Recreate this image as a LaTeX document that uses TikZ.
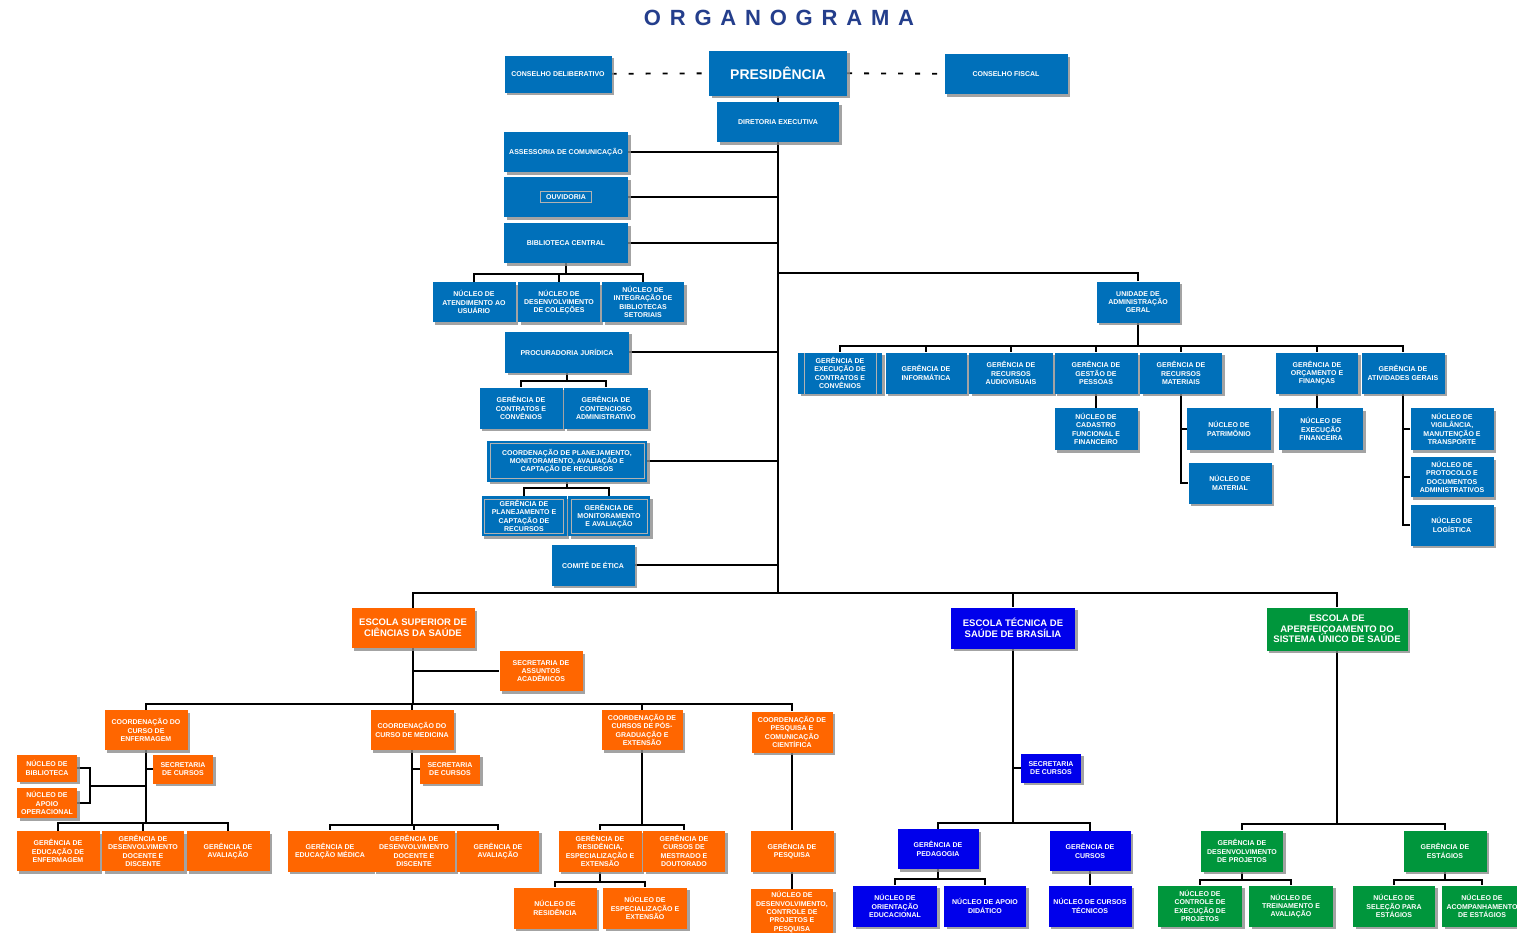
\documentclass[tikz,border=0pt]{standalone}
\usepackage{fontspec}
\setmainfont{Liberation Sans}
\newfontfamily\titlefont[LetterSpace=40]{Liberation Sans}
\usetikzlibrary{shadows,backgrounds}
\definecolor{ubl}{RGB}{0,112,186}
\definecolor{uor}{RGB}{255,102,0}
\definecolor{uet}{RGB}{0,0,235}
\definecolor{ugr}{RGB}{0,150,60}
\definecolor{utit}{RGB}{36,62,140}
\setlength{\fboxrule}{1pt}
\setlength{\fboxsep}{3pt}

\begin{document}
\begin{tikzpicture}[x=1pt, y=-1pt,
    unit/.style={fill=ubl, text=white, font=\fontsize{7}{8.3}\selectfont\bfseries,
        align=center, inner sep=0pt, minimum width=83pt, minimum height=40pt,
        drop shadow={shadow xshift=2.5pt, shadow yshift=-2.5pt, fill=black!45, opacity=.8}},
    esunit/.style={unit, fill=uor},
    etunit/.style={unit, fill=uet},
    eaunit/.style={unit, fill=ugr},
    school/.style={font=\fontsize{9.5}{10.7}\selectfont\bfseries, minimum width=124pt, minimum height=41pt},
    small/.style={minimum width=60pt, minimum height=29pt},
    inset/.style={path picture={\draw[gray!60, line width=1pt]
        ([shift={(3pt,-3pt)}]path picture bounding box.north west) rectangle
        ([shift={(-3pt,3pt)}]path picture bounding box.south east);}},
    vlines/.style={path picture={\draw[gray!60, line width=1pt]
        ([xshift=6pt]path picture bounding box.north west) -- ([xshift=6pt]path picture bounding box.south west)
        ([xshift=-6pt]path picture bounding box.north east) -- ([xshift=-6pt]path picture bounding box.south east);}},
    link/.style={line width=1.8pt, black}]

    \useasboundingbox (0,0) rectangle (1517,932);
    \node[text=utit, font=\titlefont\bfseries\fontsize{22}{22}\selectfont] (title) at (779,18) {ORGANOGRAMA};

    \node[unit, minimum width=107pt, minimum height=37pt] (cd) at (558,74) {CONSELHO DELIBERATIVO};
    \node[unit, minimum width=138pt, minimum height=45pt, font=\fontsize{14}{14}\selectfont\bfseries] (pres) at (778,73) {PRESIDÊNCIA};
    \node[unit, minimum width=123pt] (cf) at (1006,74) {CONSELHO FISCAL};
    \node[unit, minimum width=122pt] (dir) at (778,122) {DIRETORIA EXECUTIVA};
    \coordinate (tb) at (778,593);

    \node[unit, minimum width=124pt] (ac) at (566,152) {ASSESSORIA DE COMUNICAÇÃO};
    \node[unit, minimum width=124pt] (ouv) at (566,197) {\fcolorbox{gray!60}{ubl}{\hspace{2pt}OUVIDORIA\hspace{2pt}}};
    \node[unit, minimum width=124pt] (bc) at (566,243) {BIBLIOTECA CENTRAL};
    \node[unit] (nau) at (474,302) {NÚCLEO DE\\ATENDIMENTO AO\\USUÁRIO};
    \node[unit, minimum width=82pt] (ndc) at (559,302) {NÚCLEO DE\\DESENVOLVIMENTO\\DE COLEÇÕES};
    \node[unit, minimum width=82pt] (nibs) at (643,302) {NÚCLEO DE\\INTEGRAÇÃO DE\\BIBLIOTECAS\\SETORIAIS};
    \node[unit, minimum width=124pt, minimum height=41pt] (pj) at (567,352) {PROCURADORIA JURÍDICA};
    \node[unit, minimum height=41pt] (gcc) at (521,408) {GERÊNCIA DE\\CONTRATOS E\\CONVÊNIOS};
    \node[unit, minimum width=84pt, minimum height=41pt] (gca) at (606,408) {GERÊNCIA DE\\CONTENCIOSO\\ADMINISTRATIVO};
    \node[unit, inset, minimum width=160pt, minimum height=41pt] (cpm) at (567,461) {COORDENAÇÃO DE PLANEJAMENTO,\\MONITORAMENTO, AVALIAÇÃO E\\CAPTAÇÃO DE RECURSOS};
    \node[unit, inset, minimum width=85pt] (gpc) at (524,516) {GERÊNCIA DE\\PLANEJAMENTO E\\CAPTAÇÃO DE\\RECURSOS};
    \node[unit, inset, minimum width=82pt] (gma) at (609,516) {GERÊNCIA DE\\MONITORAMENTO\\E AVALIAÇÃO};
    \node[unit, minimum height=41pt] (ce) at (593,565) {COMITÊ DE ÉTICA};

    \node[unit, minimum height=41pt] (uag) at (1138,302) {UNIDADE DE\\ADMINISTRAÇÃO\\GERAL};
    \node[unit, vlines, minimum width=84pt, minimum height=41pt] (gec) at (840,373) {GERÊNCIA DE\\EXECUÇÃO DE\\CONTRATOS E\\CONVÊNIOS};
    \node[unit, minimum width=81pt, minimum height=41pt] (gi) at (926,373) {GERÊNCIA DE\\INFORMÁTICA};
    \node[unit, minimum width=84pt, minimum height=41pt] (gra) at (1011,373) {GERÊNCIA DE\\RECURSOS\\AUDIOVISUAIS};
    \node[unit, minimum height=41pt] (ggp) at (1096,373) {GERÊNCIA DE\\GESTÃO DE\\PESSOAS};
    \node[unit, minimum width=82pt, minimum height=41pt] (grm) at (1181,373) {GERÊNCIA DE\\RECURSOS\\MATERIAIS};
    \node[unit, minimum width=82pt, minimum height=41pt] (gof) at (1317,373) {GERÊNCIA DE\\ORÇAMENTO E\\FINANÇAS};
    \node[unit, minimum height=41pt] (gag) at (1403,373) {GERÊNCIA DE\\ATIVIDADES GERAIS};
    \node[unit, minimum height=42pt] (ncf) at (1096,429) {NÚCLEO DE\\CADASTRO\\FUNCIONAL E\\FINANCEIRO};
    \node[unit, minimum width=84pt, minimum height=42pt] (npt) at (1229,429) {NÚCLEO DE\\PATRIMÔNIO};
    \node[unit, minimum height=41pt] (nmt) at (1230,483) {NÚCLEO DE\\MATERIAL};
    \node[unit, minimum width=84pt, minimum height=42pt] (nef) at (1321,429) {NÚCLEO DE\\EXECUÇÃO\\FINANCEIRA};
    \node[unit, minimum height=42pt] (nvm) at (1452,429) {NÚCLEO DE\\VIGILÂNCIA,\\MANUTENÇÃO E\\TRANSPORTE};
    \node[unit] (npd) at (1452,477) {NÚCLEO DE\\PROTOCOLO E\\DOCUMENTOS\\ADMINISTRATIVOS};
    \node[unit, minimum height=41pt] (nlg) at (1452,525) {NÚCLEO DE\\LOGÍSTICA};

    \node[esunit, school, minimum width=123pt, minimum height=40pt] (escs) at (413,628) {ESCOLA SUPERIOR DE\\CIÊNCIAS DA SAÚDE};
    \node[esunit] (saa) at (541,671) {SECRETARIA DE\\ASSUNTOS\\ACADÊMICOS};
    \node[esunit] (cenf) at (146,730) {COORDENAÇÃO DO\\CURSO DE\\ENFERMAGEM};
    \node[esunit, small] (scenf) at (183,769) {SECRETARIA\\DE CURSOS};
    \node[esunit, small, minimum height=27pt] (nbib) at (47,768) {NÚCLEO DE\\BIBLIOTECA};
    \node[esunit, small, minimum height=30pt] (napo) at (47,803) {NÚCLEO DE\\APOIO\\OPERACIONAL};
    \coordinate (bk) at (90,786);
    \node[esunit] (geenf) at (58,851) {GERÊNCIA DE\\EDUCAÇÃO DE\\ENFERMAGEM};
    \node[esunit, minimum width=82pt] (gdenf) at (143,851) {GERÊNCIA DE\\DESENVOLVIMENTO\\DOCENTE E\\DISCENTE};
    \node[esunit] (gaenf) at (228,851) {GERÊNCIA DE\\AVALIAÇÃO};
    \node[esunit] (cmed) at (412,730) {COORDENAÇÃO DO\\CURSO DE MEDICINA};
    \node[esunit, small] (scmed) at (450,769) {SECRETARIA\\DE CURSOS};
    \node[esunit, minimum width=85pt, minimum height=41pt] (gemed) at (330,851) {GERÊNCIA DE\\EDUCAÇÃO MÉDICA};
    \node[esunit, minimum width=82pt, minimum height=41pt] (gdmed) at (414,851) {GERÊNCIA DE\\DESENVOLVIMENTO\\DOCENTE E\\DISCENTE};
    \node[esunit, minimum width=82pt, minimum height=41pt] (gamed) at (498,851) {GERÊNCIA DE\\AVALIAÇÃO};
    \node[esunit, minimum width=81pt] (cpos) at (642,730) {COORDENAÇÃO DE\\CURSOS DE PÓS-\\GRADUAÇÃO E\\EXTENSÃO};
    \node[esunit, minimum height=41pt] (gree) at (600,851) {GERÊNCIA DE\\RESIDÊNCIA,\\ESPECIALIZAÇÃO E\\EXTENSÃO};
    \node[esunit, minimum width=82pt, minimum height=41pt] (gcmd) at (684,851) {GERÊNCIA DE\\CURSOS DE\\MESTRADO E\\DOUTORADO};
    \node[esunit, minimum height=41pt] (nres) at (555,908) {NÚCLEO DE\\RESIDÊNCIA};
    \node[esunit, minimum width=84pt, minimum height=41pt] (nesp) at (645,908) {NÚCLEO DE\\ESPECIALIZAÇÃO E\\EXTENSÃO};
    \node[esunit, minimum width=81pt, minimum height=41pt] (cpq) at (792,732) {COORDENAÇÃO DE\\PESQUISA E\\COMUNICAÇÃO\\CIENTÍFICA};
    \node[esunit, minimum height=41pt] (gpq) at (792,851) {GERÊNCIA DE\\PESQUISA};
    \node[esunit, minimum width=82pt, minimum height=46pt] (ndpq) at (792,912) {NÚCLEO DE\\DESENVOLVIMENTO,\\CONTROLE DE\\PROJETOS E\\PESQUISA};

    \node[etunit, school] (etsb) at (1013,628) {ESCOLA TÉCNICA DE\\SAÚDE DE BRASÍLIA};
    \node[etunit, small] (setsb) at (1051,768) {SECRETARIA\\DE CURSOS};
    \node[etunit, minimum width=81pt] (gped) at (938,849) {GERÊNCIA DE\\PEDAGOGIA};
    \node[etunit, minimum width=81pt] (gcur) at (1090,851) {GERÊNCIA DE\\CURSOS};
    \node[etunit, minimum width=84pt, minimum height=41pt] (noe) at (895,906) {NÚCLEO DE\\ORIENTAÇÃO\\EDUCACIONAL};
    \node[etunit, minimum width=82pt, minimum height=41pt] (nad) at (985,906) {NÚCLEO DE APOIO\\DIDÁTICO};
    \node[etunit, minimum height=41pt] (nct) at (1090,906) {NÚCLEO DE CURSOS\\TÉCNICOS};

    \node[eaunit, school, minimum width=141pt, minimum height=43pt] (eap) at (1337,629) {ESCOLA DE\\APERFEIÇOAMENTO DO\\SISTEMA ÚNICO DE SAÚDE};
    \node[eaunit, minimum width=82pt, minimum height=41pt] (gdp) at (1242,851) {GERÊNCIA DE\\DESENVOLVIMENTO\\DE PROJETOS};
    \node[eaunit, minimum height=41pt] (gest) at (1445,851) {GERÊNCIA DE\\ESTÁGIOS};
    \node[eaunit, minimum width=84pt, minimum height=41pt] (ncep) at (1200,906) {NÚCLEO DE\\CONTROLE DE\\EXECUÇÃO DE\\PROJETOS};
    \node[eaunit, minimum width=84pt, minimum height=41pt] (nta) at (1291,906) {NÚCLEO DE\\TREINAMENTO E\\AVALIAÇÃO};
    \node[eaunit, minimum width=82pt, minimum height=41pt] (nsel) at (1394,906) {NÚCLEO DE\\SELEÇÃO PARA\\ESTÁGIOS};
    \node[eaunit, minimum width=80pt, minimum height=41pt] (nace) at (1482,906) {NÚCLEO DE\\ACOMPANHAMENTO\\DE ESTÁGIOS};

    \begin{pgfonlayer}{background}
    \fill[white] (0,0) rectangle (1517,932);
    \draw[link, dash pattern=on 5pt off 12pt] (cd) -- (pres);
    \draw[link, dash pattern=on 5pt off 12pt] (pres) -- (cf);
    \draw[link] (pres.south) -- (tb);
    \foreach \u in {ac,ouv,bc,pj,cpm,ce}
        \draw[link] (\u.east) -- (\u.east -| tb);
    \foreach \u in {nau,ndc,nibs}
        \draw[link] (bc.south) -- ++(0,11) -| (\u.north);
    \foreach \u in {gcc,gca}
        \draw[link] (pj.south) -- ++(0,8.5) -| (\u.north);
    \foreach \u in {gpc,gma}
        \draw[link] (cpm.south) -- ++(0,6) -| (\u.north);

    \draw[link] (uag.north) -- ++(0,-8) -| (tb);
    \foreach \u in {gec,gi,gra,ggp,grm,gof,gag}
        \draw[link] (uag.south) -- ++(0,23.5) -| (\u.north);
    \draw[link] (ggp) -- (ncf);
    \draw[link] (grm.south) |- (npt.west);
    \draw[link] (grm.south) |- (nmt.west);
    \draw[link] (gof.south) -- (gof.south |- nef.north);
    \foreach \u in {nvm,npd,nlg}
        \draw[link] (gag.south) |- (\u.west);

    \foreach \u in {escs,etsb,eap}
        \draw[link] (tb) -| (\u.north);
    \draw[link] (escs.south) |- (saa.west);
    \foreach \u in {cenf,cmed,cpos,cpq}
        \draw[link] (escs.south) -- ++(0,56) -| (\u.north);
    \draw[link] (cenf.south) |- (scenf.west);
    \draw[link] (nbib.east) -| (bk) |- (napo.east);
    \draw[link] (bk) -- (bk -| cenf.south);
    \foreach \u in {geenf,gdenf,gaenf}
        \draw[link] (cenf.south) -- ++(0,73) -| (\u.north);
    \draw[link] (cmed.south) |- (scmed.west);
    \foreach \u in {gemed,gdmed,gamed}
        \draw[link] (cmed.south) -- ++(0,75) -| (\u.north);
    \foreach \u in {gree,gcmd}
        \draw[link] (cpos.south) -- ++(0,75) -| (\u.north);
    \foreach \u in {nres,nesp}
        \draw[link] (gree.south) -- ++(0,10.5) -| (\u.north);
    \draw[link] (cpq) -- (gpq);
    \draw[link] (gpq) -- (ndpq);

    \draw[link] (etsb.south) |- (setsb.west);
    \foreach \u in {gped,gcur}
        \draw[link] (etsb.south) -- ++(0,174.5) -| (\u.north);
    \foreach \u in {noe,nad}
        \draw[link] (gped.south) -- ++(0,10) -| (\u.north);
    \draw[link] (gcur) -- (nct);

    \foreach \u in {gdp,gest}
        \draw[link] (eap.south) -- ++(0,173.5) -| (\u.north);
    \foreach \u in {ncep,nta}
        \draw[link] (gdp.south) -- ++(0,8.5) -| (\u.north);
    \foreach \u in {nsel,nace}
        \draw[link] (gest.south) -- ++(0,8.5) -| (\u.north);
    \end{pgfonlayer}
\end{tikzpicture}
\end{document}
